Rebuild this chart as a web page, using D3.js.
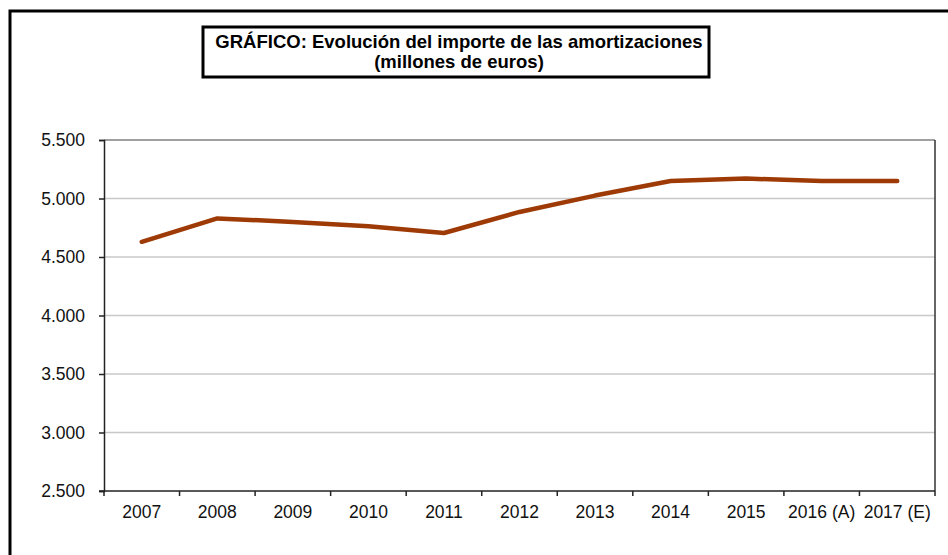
<!DOCTYPE html>
<html>
<head>
<meta charset="utf-8">
<script src="https://cdn.jsdelivr.net/npm/d3@7"></script>
<style>
  body { margin: 0; background: #fff; }
  svg text { font-family: "Liberation Sans", Arial, sans-serif; }
</style>
</head>
<body>
<div id="chart"></div>
<script>
// Chart data
const categories = ["2007", "2008", "2009", "2010", "2011", "2012", "2013", "2014", "2015", "2016 (A)", "2017 (E)"];
const amortizaciones = [4630, 4830, 4800, 4762, 4705, 4885, 5025, 5150, 5170, 5150, 5150];
const yTicks = [2500, 3000, 3500, 4000, 4500, 5000, 5500];
const titleLines = ["GRÁFICO: Evolución del importe de las amortizaciones", "(millones de euros)"];

const width = 948, height = 555;
const plot = { left: 104, top: 140, right: 935, bottom: 491 };

const svg = d3.select("#chart").append("svg")
  .attr("width", width)
  .attr("height", height);

// Outer frame (runs off the right and bottom edges)
svg.append("rect")
  .attr("x", 10).attr("y", 11)
  .attr("width", 980).attr("height", 600)
  .attr("fill", "none")
  .attr("stroke", "#000")
  .attr("stroke-width", 3);

// Title box
svg.append("rect")
  .attr("x", 203).attr("y", 27)
  .attr("width", 506).attr("height", 50)
  .attr("fill", "#fff")
  .attr("stroke", "#000")
  .attr("stroke-width", 3);

svg.selectAll(".title")
  .data(titleLines)
  .enter()
  .append("text")
  .attr("class", "title")
  .attr("x", 459)
  .attr("y", (d, i) => 48 + i * 20)
  .attr("text-anchor", "middle")
  .attr("font-size", 18.5)
  .attr("font-weight", "bold")
  .text(d => d);

// Scales
const x = d3.scaleBand()
  .domain(categories)
  .range([plot.left, plot.right]);

const y = d3.scaleLinear()
  .domain([2500, 5500])
  .range([plot.bottom, plot.top]);

// Gridlines
svg.append("g")
  .selectAll("line")
  .data(yTicks.slice(1))
  .enter()
  .append("line")
  .attr("x1", plot.left).attr("x2", plot.right)
  .attr("y1", d => y(d)).attr("y2", d => y(d))
  .attr("stroke", d => d === 5500 ? "#808080" : "#c8c8c8")
  .attr("stroke-width", 1.5);

// Right border of plot area
svg.append("line")
  .attr("x1", plot.right).attr("x2", plot.right)
  .attr("y1", plot.top).attr("y2", plot.bottom)
  .attr("stroke", "#333")
  .attr("stroke-width", 1.5);

// Y axis
const yAxis = svg.append("g")
  .attr("transform", `translate(${plot.left},0)`)
  .call(d3.axisLeft(y)
    .tickValues(yTicks)
    .tickSize(5)
    .tickPadding(14)
    .tickFormat(d => d3.format(",")(d).replace(",", ".")));

yAxis.select(".domain").attr("stroke", "#222").attr("stroke-width", 1.5);
yAxis.selectAll(".tick line").attr("stroke", "#222").attr("stroke-width", 1.5);
yAxis.selectAll("text")
  .attr("font-size", 17.5)
  .attr("fill", "#111")
  .style("font-family", "'Liberation Sans', Arial, sans-serif");

// X axis (ticks at category boundaries)
const xAxis = svg.append("g")
  .attr("transform", `translate(0,${plot.bottom})`);

xAxis.append("line")
  .attr("x1", plot.left - 5).attr("x2", plot.right)
  .attr("stroke", "#222")
  .attr("stroke-width", 1.5);

xAxis.selectAll(".xtick")
  .data(categories.concat([null]))
  .enter()
  .append("line")
  .attr("class", "xtick")
  .attr("x1", (d, i) => i < categories.length ? x(d) : plot.right)
  .attr("x2", (d, i) => i < categories.length ? x(d) : plot.right)
  .attr("y1", 0).attr("y2", 5)
  .attr("stroke", "#222")
  .attr("stroke-width", 1.5);

xAxis.selectAll(".xlabel")
  .data(categories)
  .enter()
  .append("text")
  .attr("class", "xlabel")
  .attr("x", d => x(d) + x.bandwidth() / 2)
  .attr("y", 27)
  .attr("text-anchor", "middle")
  .attr("font-size", 17.5)
  .attr("fill", "#111")
  .text(d => d);

// Series line
const line = d3.line()
  .x((d, i) => x(categories[i]) + x.bandwidth() / 2)
  .y(d => y(d));

svg.append("path")
  .datum(amortizaciones)
  .attr("d", line)
  .attr("fill", "none")
  .attr("stroke", "#9e3a05")
  .attr("stroke-width", 4.5)
  .attr("stroke-linecap", "round")
  .attr("stroke-linejoin", "round");
</script>
</body>
</html>
